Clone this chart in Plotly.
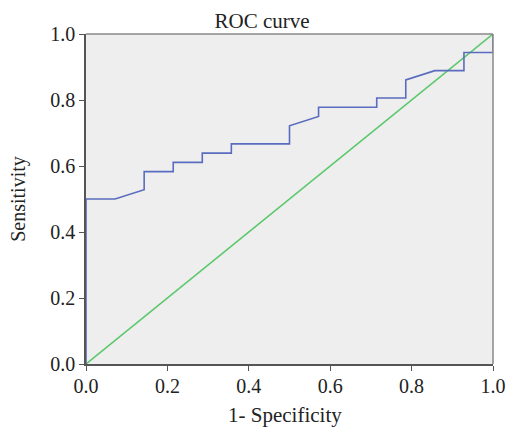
import plotly.graph_objects as go

fpr = [0, 0, 0.0714, 0.1429, 0.1429, 0.2143, 0.2143, 0.2857, 0.2857, 0.3571, 0.3571,
       0.5, 0.5, 0.5714, 0.5714, 0.7143, 0.7143, 0.7857, 0.7857, 0.8571, 0.9286, 0.9286, 1.0, 1.0]
tpr = [0, 0.5, 0.5, 0.528, 0.583, 0.583, 0.611, 0.611, 0.639, 0.639, 0.667,
       0.667, 0.722, 0.75, 0.778, 0.778, 0.806, 0.806, 0.861, 0.889, 0.889, 0.944, 0.944, 1.0]
ref_x = [0, 1]
ref_y = [0, 1]
ticks = [0.0, 0.2, 0.4, 0.6, 0.8, 1.0]
tick_labels = ["0.0", "0.2", "0.4", "0.6", "0.8", "1.0"]

FONT = "Liberation Serif"
TXT = "#222222"

fig = go.Figure()
fig.add_trace(go.Scatter(x=ref_x, y=ref_y, mode="lines",
                         line=dict(color="#5cc86c", width=1.6), hoverinfo="skip"))
fig.add_trace(go.Scatter(x=fpr, y=tpr, mode="lines",
                         line=dict(color="#5a6cbf", width=1.6)))

axis_common = dict(
    range=[0, 1], tickvals=ticks, ticktext=tick_labels,
    showgrid=False, zeroline=False, showline=True, linecolor="#555555", linewidth=1.5,
    ticks="outside", ticklen=5, tickcolor="#555555", tickwidth=1.2,
    tickfont=dict(family=FONT, size=20, color=TXT),
    mirror=False, automargin=False,
)

fig.update_layout(
    width=507, height=427,
    margin=dict(l=86, r=14, t=34, b=63, autoexpand=False),
    paper_bgcolor="white", plot_bgcolor="#eeeeee",
    showlegend=False,
    title=dict(text="ROC curve", x=262 / 507, xanchor="center", xref="container",
               y=1 - 21 / 427, yanchor="middle", yref="container", automargin=False,
               font=dict(family=FONT, size=21, color=TXT)),
    xaxis=dict(axis_common, ticklabelstandoff=-2),
    yaxis=dict(axis_common,
               title=dict(text="Sensitivity", standoff=19,
                          font=dict(family=FONT, size=20, color=TXT))),
    annotations=[dict(text="1- Specificity", xref="paper", yref="paper",
                      x=(285 - 86) / 407, y=-(414 - 363.5) / 329.5,
                      xanchor="center", yanchor="middle", showarrow=False,
                      font=dict(family=FONT, size=21, color=TXT))],
    shapes=[dict(type="line", xref="paper", yref="paper", x0=0, x1=1, y0=1, y1=1,
                 line=dict(color="#888888", width=1.5)),
            dict(type="line", xref="paper", yref="paper", x0=1, x1=1, y0=0, y1=1,
                 line=dict(color="#888888", width=1.5))],
)

fig.write_html("out.html", config={"displayModeBar": False},
               post_script="document.body.style.margin='0';document.body.style.overflow='hidden';")
